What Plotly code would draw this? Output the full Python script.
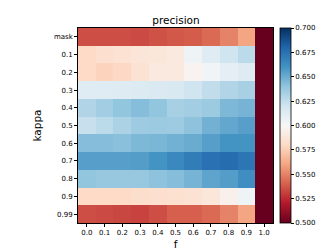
import plotly.graph_objects as go

f_labels = ["0.0", "0.1", "0.2", "0.3", "0.4", "0.5", "0.6", "0.7", "0.8", "0.9", "1.0"]
kappa_labels = ["mask", "0.1", "0.2", "0.3", "0.4", "0.5", "0.6", "0.7", "0.8", "0.9", "0.99"]

row_mask = [0.535, 0.535, 0.535, 0.534, 0.536, 0.538, 0.539, 0.543, 0.550, 0.560, 0.500]
row_01 = [0.580, 0.583, 0.585, 0.587, 0.588, 0.590, 0.605, 0.612, 0.620, 0.627, 0.500]
row_02 = [0.580, 0.577, 0.579, 0.585, 0.590, 0.590, 0.597, 0.603, 0.610, 0.613, 0.500]
row_03 = [0.612, 0.612, 0.613, 0.614, 0.615, 0.616, 0.620, 0.625, 0.630, 0.633, 0.500]
row_04 = [0.630, 0.635, 0.640, 0.643, 0.640, 0.633, 0.635, 0.637, 0.645, 0.647, 0.500]
row_05 = [0.623, 0.627, 0.632, 0.636, 0.637, 0.636, 0.641, 0.648, 0.652, 0.655, 0.500]
row_06 = [0.643, 0.643, 0.642, 0.645, 0.646, 0.648, 0.650, 0.655, 0.660, 0.660, 0.500]
row_07 = [0.655, 0.655, 0.655, 0.656, 0.660, 0.665, 0.670, 0.675, 0.677, 0.673, 0.500]
row_08 = [0.640, 0.638, 0.638, 0.638, 0.641, 0.643, 0.647, 0.653, 0.656, 0.662, 0.500]
row_09 = [0.580, 0.580, 0.580, 0.582, 0.583, 0.584, 0.585, 0.588, 0.595, 0.605, 0.500]
row_099 = [0.535, 0.534, 0.533, 0.532, 0.535, 0.540, 0.540, 0.543, 0.550, 0.560, 0.500]

z = [row_mask, row_01, row_02, row_03, row_04, row_05, row_06, row_07, row_08, row_09, row_099]

rdbu = ["#67001f", "#b2182b", "#d6604d", "#f4a582", "#fddbc7", "#f7f7f7",
        "#d1e5f0", "#92c5de", "#4393c3", "#2166ac", "#053061"]
colorscale = [[i / 10, c] for i, c in enumerate(rdbu)]

fig = go.Figure(go.Heatmap(
    z=z, x=f_labels, y=kappa_labels,
    colorscale=colorscale, zmin=0.5, zmax=0.7,
    colorbar=dict(
        x=272 / 332, xanchor="left", xpad=0, ypad=0,
        y=1 - 215 / 249, yanchor="bottom",
        len=195 / 249, lenmode="fraction", thickness=11,
        outlinecolor="black", outlinewidth=0.8,
        tickvals=[0.5, 0.525, 0.55, 0.575, 0.6, 0.625, 0.65, 0.675, 0.7],
        tickformat=".3f", ticks="outside", ticklen=3, tickcolor="black",
        tickfont=dict(size=7, color="black", family="DejaVu Sans"),
    ),
))

fig.update_layout(
    width=332, height=249,
    margin=dict(l=0, r=0, t=0, b=0),
    paper_bgcolor="white", plot_bgcolor="white",
    title=dict(text="precision", x=168 / 332, xanchor="center", y=1 - 12 / 249, yanchor="middle",
               font=dict(size=10.5, color="black", family="DejaVu Sans")),
    font=dict(family="DejaVu Sans", color="black"),
    xaxis=dict(
        domain=[70 / 332, 265 / 332], type="category",
        title=dict(text="f", font=dict(size=10.5), standoff=4),
        ticks="outside", ticklen=3, tickcolor="black",
        tickfont=dict(size=7), showline=True, linecolor="black", linewidth=0.8, mirror=True,
        showgrid=False, zeroline=False,
    ),
    yaxis=dict(
        domain=[1 - 215 / 249, 1 - 20 / 249], type="category", autorange="reversed",
        title=dict(text="kappa", font=dict(size=10.5), standoff=10),
        ticks="outside", ticklen=3, tickcolor="black",
        tickfont=dict(size=7), showline=True, linecolor="black", linewidth=0.8, mirror=True,
        showgrid=False, zeroline=False,
    ),
)

fig.write_html("out.html")
